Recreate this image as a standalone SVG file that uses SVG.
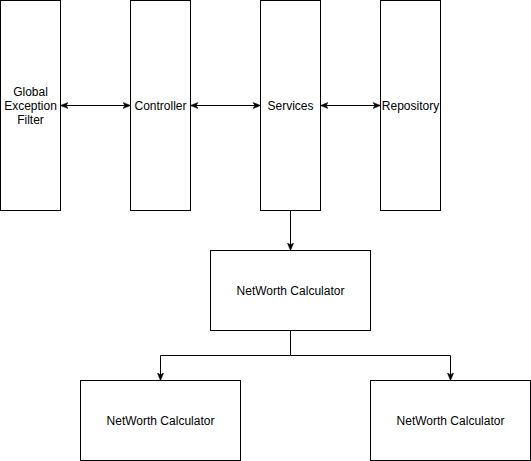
<svg xmlns="http://www.w3.org/2000/svg" width="531" height="461" viewBox="0 0 531 461">
<style>
.box{fill:#fff;stroke:#000;stroke-width:1}
.lbl{font-family:"Liberation Sans",Arial,sans-serif;font-size:12px;fill:#000;text-anchor:middle;dominant-baseline:central}
.edge{fill:none;stroke:#000;stroke-width:1}
</style>
<defs>
<marker id="ah" viewBox="0 0 10 10" refX="9" refY="5" markerWidth="8" markerHeight="8" markerUnits="userSpaceOnUse" orient="auto-start-reverse">
<path d="M0,1 L10,5 L0,9 L2.5,5 Z" fill="#000" stroke="#000" stroke-width="0.5"/>
</marker>
</defs>
<rect width="531" height="461" fill="#fff"/>
<g id="gef"><rect class="box" x="0.5" y="0.5" width="60" height="210"/>
<text class="lbl" x="30.5" y="91.5">Global</text><text class="lbl" x="30.5" y="105.5">Exception</text><text class="lbl" x="30.5" y="119.5">Filter</text></g>
<g id="controller"><rect class="box" x="130.5" y="0.5" width="60" height="210"/><text class="lbl" x="160.5" y="105.5">Controller</text></g>
<g id="services"><rect class="box" x="260.5" y="0.5" width="60" height="210"/><text class="lbl" x="290.5" y="105.5">Services</text></g>
<g id="repository"><rect class="box" x="380.5" y="0.5" width="60" height="210"/><text class="lbl" x="410.5" y="105.5">Repository</text></g>
<g id="calc"><rect class="box" x="210.5" y="250.5" width="160" height="80"/><text class="lbl" x="290.5" y="290.5">NetWorth Calculator</text></g>
<g id="calcLeft"><rect class="box" x="80.5" y="380.5" width="160" height="80"/><text class="lbl" x="160.5" y="420.5">NetWorth Calculator</text></g>
<g id="calcRight"><rect class="box" x="370.5" y="380.5" width="160" height="80"/><text class="lbl" x="450.5" y="420.5">NetWorth Calculator</text></g>
<g id="connectors">
<path class="edge" d="M61,105.5 H130" marker-start="url(#ah)" marker-end="url(#ah)"/>
<path class="edge" d="M191,105.5 H260" marker-start="url(#ah)" marker-end="url(#ah)"/>
<path class="edge" d="M321,105.5 H380" marker-start="url(#ah)" marker-end="url(#ah)"/>
<path class="edge" d="M290.5,211 V250" marker-end="url(#ah)"/>
<path class="edge" d="M290.5,331 V355.5 H160.5 V380" marker-end="url(#ah)"/>
<path class="edge" d="M290.5,355.5 H450.5 V380" marker-end="url(#ah)"/>
</g>
</svg>
